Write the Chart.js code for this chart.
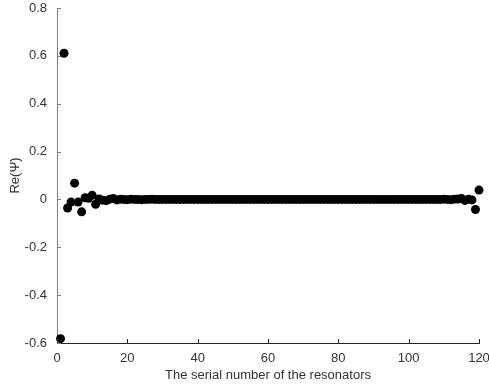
<!DOCTYPE html>
<html>
<head>
<meta charset="utf-8">
<script src="https://cdn.jsdelivr.net/npm/chart.js@4"></script>
<style>
  html, body { margin: 0; padding: 0; background: #fff; }
  #wrap { width: 489px; height: 387px; }
</style>
</head>
<body>
<div id="wrap"><canvas id="chart" width="489" height="387"></canvas></div>
<script>
// resonator index 1..120
const resonators = [
    1, 2, 3, 4, 5, 6, 7, 8, 9, 10,
    11, 12, 13, 14, 15, 16, 17, 18, 19, 20,
    21, 22, 23, 24, 25, 26, 27, 28, 29, 30,
    31, 32, 33, 34, 35, 36, 37, 38, 39, 40,
    41, 42, 43, 44, 45, 46, 47, 48, 49, 50,
    51, 52, 53, 54, 55, 56, 57, 58, 59, 60,
    61, 62, 63, 64, 65, 66, 67, 68, 69, 70,
    71, 72, 73, 74, 75, 76, 77, 78, 79, 80,
    81, 82, 83, 84, 85, 86, 87, 88, 89, 90,
    91, 92, 93, 94, 95, 96, 97, 98, 99, 100,
    101, 102, 103, 104, 105, 106, 107, 108, 109, 110,
    111, 112, 113, 114, 115, 116, 117, 118, 119, 120
];

// Re(Psi)
const rePsi = [
    -0.582, 0.611, -0.036, -0.011, 0.068, -0.011, -0.052, 0.007, 0.005, 0.017,
    -0.020, 0.002, -0.003, -0.005, 0.001, 0.004, -0.002, 0.001, 0, -0.001,
    0.001, 0, 0, -0.001, 0, 0, 0.001, 0, 0, 0,
    0, 0, 0, 0, 0, 0, 0, 0, 0, 0,
    0, 0, 0, 0, 0, 0, 0, 0, 0, 0,
    0, 0, 0, 0, 0, 0, 0, 0, 0, 0,
    0, 0, 0, 0, 0, 0, 0, 0, 0, 0,
    0, 0, 0, 0, 0, 0, 0, 0, 0, 0,
    0, 0, 0, 0, 0, 0, 0, 0, 0, 0,
    0, 0, 0, 0, 0, 0, 0, 0, 0, 0,
    0, 0, 0, 0, 0, 0, 0, 0, 0, 0.001,
    0, -0.001, 0.001, 0.002, 0.004, -0.004, 0.001, -0.002, -0.042, 0.039
];

const xTicks = [0, 20, 40, 60, 80, 100, 120];
const yTicks = [-0.6, -0.4, -0.2, 0, 0.2, 0.4, 0.6, 0.8];

const font = { family: "'Liberation Sans', Arial, sans-serif", size: 13 };

// Matlab-style inward tick marks
const inwardTicks = {
    id: 'inwardTicks',
    afterDraw(chart) {
        const ctx = chart.ctx;
        const area = chart.chartArea;
        const xs = chart.scales.x;
        const ys = chart.scales.y;
        ctx.save();
        ctx.lineWidth = 1;
        ctx.strokeStyle = '#262626';
        xTicks.forEach(v => {
            const px = Math.round(xs.getPixelForValue(v)) + 0.5;
            ctx.beginPath();
            ctx.moveTo(px, area.bottom);
            ctx.lineTo(px, area.bottom - 4);
            ctx.stroke();
        });
        ctx.strokeStyle = '#808080';
        yTicks.forEach(v => {
            const py = Math.round(ys.getPixelForValue(v)) + 0.5;
            ctx.beginPath();
            ctx.moveTo(area.left, py);
            ctx.lineTo(area.left + 4, py);
            ctx.stroke();
        });
        ctx.restore();
    }
};

new Chart(document.getElementById('chart'), {
    type: 'scatter',
    data: {
        datasets: [{
            data: resonators.map((x, i) => ({ x: x, y: rePsi[i] })),
            backgroundColor: '#000',
            borderColor: '#000',
            borderWidth: 0,
            pointRadius: 4.5,
            pointHoverRadius: 4.5,
            clip: false
        }]
    },
    plugins: [inwardTicks],
    options: {
        responsive: false,
        animation: false,
        events: [],
        layout: { autoPadding: false, padding: { left: 0, top: 8, right: 10, bottom: 0 } },
        plugins: {
            legend: { display: false },
            tooltip: { enabled: false }
        },
        scales: {
            x: {
                type: 'linear',
                min: 0,
                max: 120,
                afterBuildTicks: s => { s.ticks = xTicks.map(v => ({ value: v })); },
                afterFit: s => { s.height = 44; s.paddingLeft = 0; s.paddingRight = 0; },
                grid: { drawOnChartArea: false, drawTicks: false },
                border: { color: '#262626', width: 1 },
                ticks: { color: '#333', font: font, padding: 8, maxRotation: 0 },
                title: {
                    display: true,
                    text: 'The serial number of the resonators',
                    color: '#333',
                    font: font,
                    padding: { top: 0, bottom: 4 }
                }
            },
            y: {
                type: 'linear',
                min: -0.6,
                max: 0.8,
                afterBuildTicks: s => { s.ticks = yTicks.map(v => ({ value: v })); },
                afterFit: s => { s.width = 57; s.paddingTop = 0; s.paddingBottom = 0; },
                grid: { drawOnChartArea: false, drawTicks: false },
                border: { color: '#808080', width: 1 },
                ticks: {
                    color: '#333',
                    font: font,
                    padding: 10,
                    callback: v => String(Number(v.toFixed(1)))
                },
                title: {
                    display: true,
                    text: 'Re(Ψ)',
                    color: '#333',
                    font: font,
                    padding: { top: 8, bottom: 0 }
                }
            }
        }
    }
});
</script>
</body>
</html>
